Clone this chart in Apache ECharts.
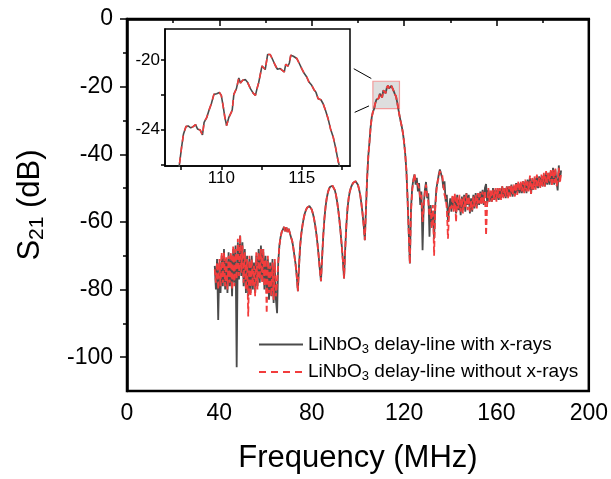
<!DOCTYPE html>
<html>
<head>
<meta charset="utf-8">
<script src="https://cdn.jsdelivr.net/npm/echarts@6.0.0/dist/echarts.min.js"></script>
<style>
  html, body { margin: 0; padding: 0; background: #fff; }
  #chart { width: 611px; height: 479px; }
</style>
</head>
<body>
<div id="chart"></div>
<script>
// sweep grid: 0.5 MHz steps, split into three stretches
const step = 0.5
const lowStart = 38      // 38.0 .. 65.0, noisy
const lobeStart = 65.5   // 65.5 .. 122.5, side lobes + passband (both traces overlap)
const highStart = 123    // 123.0 .. 188.0, noisy

const lowWith = [
  -73, -80, -71, -89, -72, -81, -70, -79, -68, -80,
  -71, -81, -69, -79, -70, -82, -68, -78, -67, -103,
  -66, -77, -64, -76, -66, -79, -68, -81, -70, -82,
  -71, -81, -70, -80, -72, -81, -70, -79, -68, -78,
  -67, -77, -68, -80, -70, -81, -71, -83, -72, -82,
  -71, -84, -72, -83, -87,
]
const lowWithout = [
  -74, -78, -72, -80, -71, -79, -69, -78, -69, -79,
  -70, -80, -70, -78, -69, -80, -67, -79, -68, -77,
  -65, -76, -64, -75, -67, -78, -69, -80, -71, -88,
  -70, -82, -71, -79, -73, -82, -69, -80, -69, -77,
  -68, -78, -68, -79, -71, -87, -70, -81, -73, -82,
  -72, -83, -71, -82, -78,
]
const lobes = [
  -72, -67, -64.5, -63, -63.5, -61.5, -62.8, -61.6, -63, -62,
  -63.2, -64.5, -65.5, -67.5, -70, -72.5, -76, -80.5, -73, -67,
  -63.5, -61, -59, -57.5, -56.5, -55.8, -55.4, -55.3, -55.6, -56.3,
  -57.5, -59, -61, -63.5, -66.5, -70, -74, -77.5, -70.5, -64,
  -59, -55.5, -53, -51.3, -50.2, -49.6, -49.2, -49.3, -49.8, -50.6,
  -52, -54, -56.5, -59.5, -63, -67, -71.5, -76.7, -68, -61,
  -56, -53, -51, -49.8, -49, -48.4, -48.1, -48, -48.3, -49,
  -50.3, -52, -54.5, -57.5, -61, -65.4, -56, -47, -40.5, -36.5,
  -32, -29, -27.5, -26.6, -25, -23.85, -23.9, -23.4, -22.1, -22,
  -23.2, -21.1, -21.1, -21.95, -20.4, -19.7, -20.5, -20.2, -19.8, -20.5,
  -21.3, -22.2, -22.9, -24.6, -26.6, -28.5, -30.2, -31.8, -33.7, -36.5,
  -40, -44.8, -53, -63, -72.3,
]
const highWith = [
  -56, -50, -47.5, -46, -49, -47, -51, -48.5, -55, -51,
  -68.4, -55, -50.5, -48.2, -53, -51.5, -64.4, -55, -60, -57,
  -65, -55, -50, -48.2, -46, -44.5, -44, -47, -50, -48,
  -54, -52, -60, -56, -53,
  -57, -52.5, -56, -53, -57.5, -52, -56.5, -53.5, -58, -52.5,
  -56, -52, -57, -51.5, -55, -52, -57.5, -53, -57, -52,
  -56, -51.5, -55.5, -52, -55, -51, -54.5, -50.5, -55, -50,
  -48.8, -54.5, -50.5, -54, -51, -54, -50, -53.5, -50.5, -53.5,
  -50, -53.5, -50.5, -53, -49.5, -52.5, -50, -53, -49.5, -52.5,
  -49.5, -52, -49, -52.5, -49.5, -52, -48.5, -51.5, -48.5, -51.5,
  -48.5, -51.5, -48, -51, -48, -51.5, -47.5, -50.5, -47, -51.7,
  -47.5, -50.5, -47, -50, -46.5, -50, -46.5, -49.5, -46.5, -49.5,
  -46, -49.5, -45.5, -49, -45.5, -49, -45, -48.5, -44, -49,
  -44.5, -48, -50.7, -43.3, -47.5, -44.8,
]
const highWithout = [
  -57, -51, -48, -45.8, -48, -47.5, -49, -50, -53, -52,
  -60, -56, -51, -49, -52, -54, -58, -56, -62, -55,
  -70, -56, -51, -48, -47, -45, -45.5, -46, -49, -52,
  -53, -56, -65, -57, -55,
  -56, -52, -57, -51.5, -60, -52.5, -56, -52, -57, -53,
  -57.5, -52.5, -56, -51.6, -56.5, -52.5, -57, -53.5, -56.5, -52.5,
  -55.5, -52, -56, -51.5, -54.5, -51.5, -55, -51, -54.5, -51,
  -64, -54.5, -50, -54, -50.5, -54, -50.5, -53.5, -50, -54,
  -50, -53, -50, -53.5, -49.5, -53, -50, -52.5, -49.5, -53,
  -49.5, -52.5, -49, -52, -49, -52.5, -48.5, -52, -48, -51,
  -48, -51, -48, -51.5, -47.5, -51, -48, -51, -46.3, -51.7,
  -47, -50.5, -46.5, -50.5, -46, -49.5, -47, -50, -46, -49.5,
  -45.5, -49.5, -45, -48.5, -45.5, -48, -44.5, -49.5, -44.5, -48.5,
  -44, -49.5, -48, -44, -48.5, -45.5,
]

// inset: passband top, read finer
const insetFreq = [
  107.2, 107.38, 107.53, 107.65, 107.8, 107.94, 108.1, 108.25, 108.4, 108.52,
  108.68, 108.83, 108.93, 109.1, 109.23, 109.38, 109.54, 109.71, 109.88, 110.0,
  110.12, 110.22, 110.33, 110.47, 110.62, 110.68, 110.78, 110.94, 111.09, 111.19,
  111.33, 111.5, 111.64, 111.81, 111.98, 112.12, 112.22, 112.32, 112.43, 112.53,
  112.63, 112.73, 112.88, 113.04, 113.19, 113.35, 113.49, 113.66, 113.77, 113.91,
  114.01, 114.14, 114.23, 114.32, 114.48, 114.69, 114.85, 115.0, 115.14, 115.31,
  115.45, 115.62, 115.76, 115.88, 116.02, 116.19, 116.33, 116.48, 116.64, 116.79,
  116.95, 117.1, 117.26, 117.36, 117.5,
]
const insetS21 = [
  -27.2, -26.13, -25.03, -24.25, -23.83, -23.79, -23.9, -23.83, -23.71, -23.96,
  -24.02, -24.31, -23.58, -23.29, -22.9, -22.51, -21.97, -21.93, -21.86, -22.03,
  -22.67, -23.29, -23.77, -23.29, -23.01, -22.86, -21.97, -21.64, -21.02, -21.31,
  -21.16, -21.12, -21.29, -21.64, -21.9, -22.03, -21.64, -21.31, -21.22, -20.33,
  -20.39, -20.54, -19.67, -19.67, -19.96, -20.29, -20.52, -20.48, -20.39, -20.68,
  -20.23, -20.35, -20.16, -19.71, -19.77, -19.9, -20.19, -20.48, -20.74, -20.97,
  -21.26, -21.45, -21.7, -21.84, -22.22, -22.28, -22.51, -22.9, -23.38, -23.96,
  -24.41, -25.03, -25.8, -26.19, -26.9,
]

const xTicks = [0, 40, 80, 120, 160, 200]
const yTicks = [-100, -80, -60, -40, -20, 0]
const yMinorTicks = [-90, -70, -50, -30, -10]
const insetXTicks = [107.5, 110, 112.5, 115, 117.5]
const insetXLabels = [110, 115]
const insetYTicks = [-26, -24, -22, -20]
const insetYLabels = [-24, -20]

const zoomFreq = [106.5, 118]
const zoomDb = [-26.5, -18.4]
const connectors = [
  [[98.2, -14.7], [105.8, -17.6]],
  [[98.6, -27.6], [104.8, -25.7]],
]

const seriesNames = ['with x-rays', 'without x-rays']

function toPairs(start, values) {
  return values.map((v, i) => [start + i * step, v])
}

const withData = [
  ...toPairs(lowStart, lowWith),
  ...toPairs(lobeStart, lobes),
  ...toPairs(highStart, highWith),
]
const withoutData = [
  ...toPairs(lowStart, lowWithout),
  ...toPairs(lobeStart, lobes),
  ...toPairs(highStart, highWithout),
]
const insetData = insetFreq.map((f, i) => [f, insetS21[i]])

const FONT = '"Liberation Sans", Arial, sans-serif'
const DARK = '#4b4b4b'
const RED = '#f23c3c'
const black = { color: '#000', width: 1.5 }

const chart = echarts.init(document.getElementById('chart'), null, { renderer: 'canvas' })

chart.setOption({
  animation: false,
  backgroundColor: '#fff',
  textStyle: { fontFamily: FONT },
  grid: [
    { left: 127, top: 19, right: 21, bottom: 86, show: true, borderColor: '#000', borderWidth: 2.5 },
    { left: 165, top: 29, width: 185, height: 137, show: true, borderColor: '#000', borderWidth: 1.5, backgroundColor: '#fff', z: 5 },
  ],
  legend: {
    data: [
      { name: seriesNames[0] },
      { name: seriesNames[1], lineStyle: { type: [7, 5] } },
    ],
    orient: 'vertical',
    left: 258,
    top: 335,
    padding: 0,
    itemWidth: 44,
    itemHeight: 14,
    itemGap: 7,
    itemStyle: { opacity: 0 },
    formatter: (name) => `{t|LiNbO}{s|3}{t| delay-line ${name}}`,
    textStyle: {
      fontFamily: FONT,
      fontSize: 19,
      color: '#000',
      rich: {
        t: { fontSize: 19, lineHeight: 22, fontFamily: FONT, color: '#000' },
        s: { fontSize: 13, lineHeight: 8, fontFamily: FONT, color: '#000', verticalAlign: 'bottom' },
      },
    },
  },
  xAxis: [
    {
      gridIndex: 0,
      type: 'value',
      min: 0,
      max: 200,
      interval: 40,
      axisLine: { lineStyle: { color: '#000', width: 2.5 } },
      axisTick: { length: 7, lineStyle: black },
      minorTick: { show: true, splitNumber: 2, length: 4, lineStyle: black },
      axisLabel: { fontSize: 23, color: '#000', margin: 11, fontFamily: FONT, customValues: xTicks },
      splitLine: { show: false },
      name: 'Frequency (MHz)',
      nameLocation: 'middle',
      nameGap: 52,
      nameTextStyle: { fontSize: 31, color: '#000', fontFamily: FONT },
    },
    {
      gridIndex: 1,
      type: 'value',
      min: 106.5,
      max: 118,
      axisLine: { lineStyle: black },
      axisTick: { length: 4, lineStyle: black, customValues: insetXTicks },
      axisLabel: { fontSize: 17, color: '#000', margin: 4, fontFamily: FONT, customValues: insetXLabels },
      splitLine: { show: false },
      z: 6,
    },
  ],
  yAxis: [
    {
      gridIndex: 0,
      type: 'value',
      position: 'left',
      min: -110,
      max: 0,
      axisLine: { lineStyle: { color: '#000', width: 2.5 } },
      axisTick: { length: 7, lineStyle: black, customValues: yTicks },
      axisLabel: { fontSize: 23, color: '#000', margin: 14, fontFamily: FONT, customValues: yTicks },
      splitLine: { show: false },
      name: '{m|S}{sub|21}{m| (dB)}',
      nameLocation: 'middle',
      nameGap: 79,
      nameTextStyle: {
        fontSize: 31,
        color: '#000',
        fontFamily: FONT,
        rich: {
          m: { fontSize: 31, lineHeight: 36, fontFamily: FONT, color: '#000' },
          sub: { fontSize: 21, lineHeight: 14, fontFamily: FONT, color: '#000', verticalAlign: 'bottom' },
        },
      },
    },
    {
      // minor ticks for the main y axis
      gridIndex: 0,
      type: 'value',
      position: 'left',
      min: -110,
      max: 0,
      axisLine: { show: false },
      axisTick: { length: 4, lineStyle: black, customValues: yMinorTicks },
      axisLabel: { show: false },
      splitLine: { show: false },
    },
    {
      gridIndex: 1,
      type: 'value',
      min: -26.1,
      max: -18.2,
      axisLine: { lineStyle: black },
      axisTick: { length: 4, lineStyle: black, customValues: insetYTicks },
      axisLabel: { fontSize: 17, color: '#000', margin: 5, fontFamily: FONT, customValues: insetYLabels },
      splitLine: { show: false },
      z: 6,
    },
  ],
  series: [
    {
      name: seriesNames[0],
      type: 'line',
      xAxisIndex: 0,
      yAxisIndex: 0,
      data: withData,
      symbol: 'none',
      lineStyle: { color: DARK, width: 1.8 },
      itemStyle: { color: DARK },
      z: 2,
      markArea: {
        silent: true,
        itemStyle: { color: 'rgba(190,190,190,0.5)', borderColor: '#f29a9a', borderWidth: 1.2 },
        label: { show: false },
        data: [[{ coord: [zoomFreq[0], zoomDb[1]] }, { coord: [zoomFreq[1], zoomDb[0]] }]],
      },
      markLine: {
        silent: true,
        symbol: 'none',
        label: { show: false },
        lineStyle: { color: '#000', width: 1, type: 'solid' },
        data: connectors.map(([a, b]) => [{ coord: a }, { coord: b }]),
      },
    },
    {
      name: seriesNames[1],
      type: 'line',
      xAxisIndex: 0,
      yAxisIndex: 0,
      data: withoutData,
      symbol: 'none',
      lineStyle: { color: RED, width: 1.8, type: [6, 3] },
      itemStyle: { color: RED },
      z: 3,
    },
    {
      type: 'line',
      xAxisIndex: 1,
      yAxisIndex: 2,
      data: insetData,
      symbol: 'none',
      lineStyle: { color: DARK, width: 1.6 },
      z: 7,
    },
    {
      type: 'line',
      xAxisIndex: 1,
      yAxisIndex: 2,
      data: insetData,
      symbol: 'none',
      lineStyle: { color: RED, width: 1.6, type: [6, 5] },
      z: 8,
    },
  ],
})

window.addEventListener('resize', () => chart.resize())
</script>
</body>
</html>
